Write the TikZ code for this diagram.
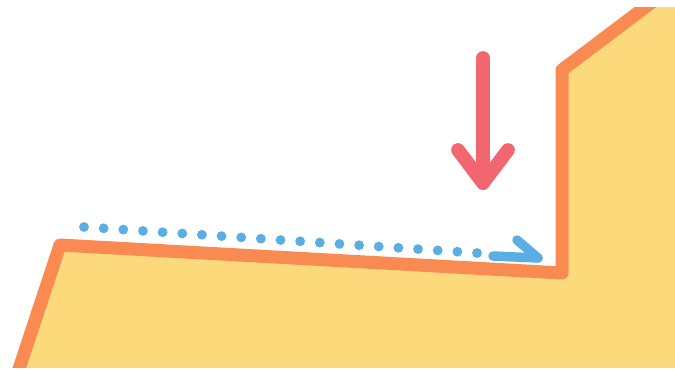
\documentclass[tikz,border=0pt]{standalone}
\usepackage{xcolor}
\usepackage{tikz}
\usetikzlibrary{calc}
\definecolor{sfill}{HTML}{FCDA7B}
\definecolor{sedge}{HTML}{F98B52}
\definecolor{sred}{HTML}{F1666F}
\definecolor{sblue}{HTML}{5BAEE3}
\tikzset{
  sground/.style={fill=sfill, draw=sedge, line width=7.4pt, line join=round},
  spush/.style={draw=sred, line width=7.8pt, line cap=round, line join=round},
  sslide/.style={draw=sblue, line width=5.4pt, line cap=round, line join=round},
  sdot/.style={fill=sblue},
}

\begin{document}
\begin{tikzpicture}[x=0.02cm,y=-0.02cm]
  \useasboundingbox (0,0) rectangle (675,369);

  % corners of the step
  \coordinate (foot) at (18,372);
  \coordinate (ledge) at (60,245);
  \coordinate (inner) at (562,273);
  \coordinate (riser) at (562,70);
  \coordinate (top) at (652,2);

  % ground with the step
  \begin{scope}
    \clip (0,7) rectangle (675,367);
    \fill[sfill] (foot) -- (ledge) -- (inner) -- (riser) -- (top)
                 -- (680,2) -- (680,372) -- cycle;
    \draw[sground, fill=none] (foot) -- (ledge) -- (inner) -- (riser) -- (top);
  \end{scope}

  % downward push
  \coordinate (ptail) at (483,58);
  \coordinate (ptip) at (483,183);
  \draw[spush] (ptail) -- (ptip);
  \draw[spush] (458,150) -- (ptip) -- (508,150);

  % dotted slide along the ledge
  \coordinate (d0) at (84,227);
  \coordinate (d1) at (477,253);
  \foreach \i in {0,...,20}
    \fill[sdot] ($(d0)!\i/20!(d1)$) circle[radius=2.8pt];
  \coordinate (stail) at (493,256);
  \coordinate (stip) at (538,258);
  \draw[sslide] (stail) -- (stip);
  \draw[sslide] (517,240) -- (stip);

\end{tikzpicture}
\end{document}
